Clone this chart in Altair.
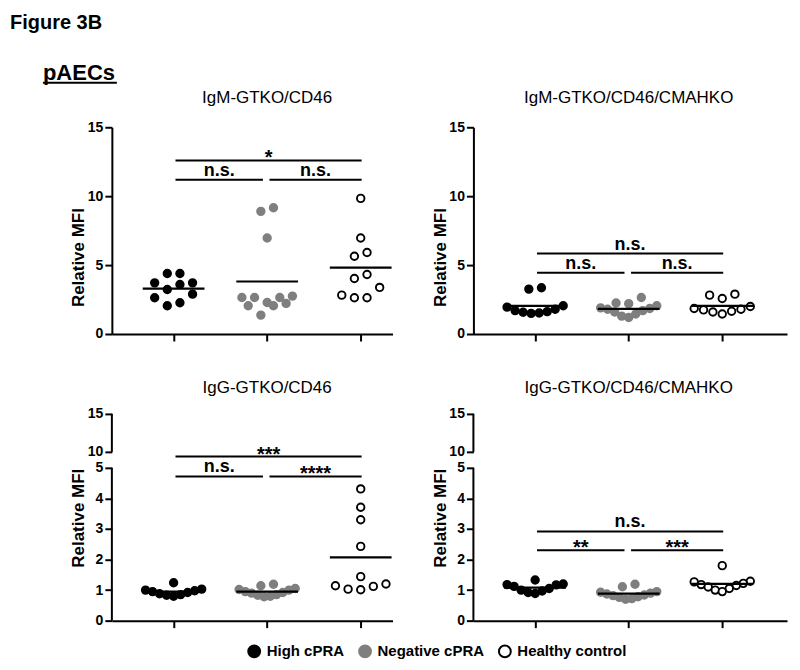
import altair as alt
import pandas as pd

# ---------------- data ----------------
groups = ["High cPRA", "Negative cPRA", "Healthy control"]
fill_colors = ["#000000", "#7f7f7f", "#ffffff"]
stroke_colors = ["#000000", "#7f7f7f", "#000000"]

panel_titles = ["IgM-GTKO/CD46", "IgM-GTKO/CD46/CMAHKO",
                "IgG-GTKO/CD46", "IgG-GTKO/CD46/CMAHKO"]
header_texts = ["Figure 3B", "pAECs"]
y_title = "Relative MFI"

igm_cd46_high = [4.39, 4.39, 3.71, 3.71, 3.59, 3.23, 2.89, 2.63, 2.27, 2.05]
igm_cd46_neg = [9.16, 8.90, 6.97, 2.75, 2.65, 2.65, 2.65, 2.29, 2.22, 2.05, 2.05, 1.37]
igm_cd46_hc = [9.84, 6.97, 5.91, 5.64, 4.32, 4.03, 3.38, 2.82, 2.63, 2.63]

igm_cmahko_high = [3.36, 3.26, 2.05, 1.95, 1.80, 1.70, 1.62, 1.58, 1.52, 1.50]
igm_cmahko_neg = [2.65, 2.25, 2.20, 2.05, 1.90, 1.85, 1.80, 1.70, 1.60, 1.45, 1.30, 1.20]
igm_cmahko_hc = [2.89, 2.82, 2.58, 2.00, 1.85, 1.80, 1.75, 1.65, 1.60, 1.45]

igg_cd46_high = [1.24, 1.03, 1.00, 0.98, 0.95, 0.92, 0.88, 0.85, 0.83, 0.80]
igg_cd46_neg = [1.19, 1.14, 1.05, 1.02, 1.00, 0.95, 0.92, 0.90, 0.85, 0.83, 0.80, 0.78]
igg_cd46_hc = [4.31, 3.71, 3.30, 2.43, 1.44, 1.20, 1.14, 1.12, 1.03, 1.01]

igg_cmahko_high = [1.33, 1.20, 1.18, 1.17, 1.12, 1.05, 1.00, 0.97, 0.92, 0.89]
igg_cmahko_neg = [1.19, 1.11, 0.95, 0.93, 0.90, 0.87, 0.84, 0.82, 0.78, 0.76, 0.72, 0.70]
igg_cmahko_hc = [1.80, 1.29, 1.27, 1.22, 1.18, 1.15, 1.10, 1.05, 1.00, 0.95]

bracket_from = [1, 1, 2]
bracket_to = [3, 2, 3]
igm_cd46_bracket_y = [12.59, 11.19, 11.19]
igm_cd46_bracket_label = ["*", "n.s.", "n.s."]
igm_cmahko_bracket_y = [5.84, 4.44, 4.44]
igm_cmahko_bracket_label = ["n.s.", "n.s.", "n.s."]
igg_cd46_bracket_y = [8.53, 4.72, 4.72]
igg_cd46_bracket_label = ["***", "n.s.", "****"]
igg_cmahko_bracket_y = [2.92, 2.30, 2.30]
igg_cmahko_bracket_label = ["n.s.", "**", "***"]

top_ticks = [0, 5, 10, 15]
broken_ticks = [0, 1, 2, 3, 4, 5, 10, 15]
broken_domain = [0, 5, 10, 15]
broken_segments_lo = [0, 10]
broken_segments_hi = [5, 15]

# ---------------- layout helpers ----------------
H = 207
STEP_PX = 93.67
XMIN = 0.34


def swarm_offsets(vals, bin_h, step=0.135, cap=0.6):
    """Prism-like scatter-dot arrangement: rows of nearby values spread out
    horizontally, lowest value in the middle."""
    order = sorted(range(len(vals)), key=lambda i: vals[i])
    offs = [0.0] * len(vals)
    i = 0
    while i < len(order):
        start = vals[order[i]]
        j = i
        while j < len(order) and vals[order[j]] <= start + bin_h + 1e-9:
            j += 1
        members = order[i:j]
        n = len(members)
        sp = step if n < 2 else min(step, cap / (n - 1))
        slots = sorted((k - (n - 1) / 2 for k in range(n)), key=lambda p: (abs(p), p))
        for idx, p in zip(members, slots):
            offs[idx] = p * sp
        i = j
    return offs


def points_frame(series, bin_h):
    rows = []
    for gi, (g, vals) in enumerate(zip(groups, series), start=1):
        for v, o in zip(vals, swarm_offsets(vals, bin_h)):
            rows.append({"group": g, "gidx": gi, "value": v, "xpos": gi + o})
    return pd.DataFrame(rows)


def bracket_frames(ys, labels):
    lines, ns, stars = [], [], []
    for a, b, y, lab in zip(bracket_from, bracket_to, ys, labels):
        x1 = a + (0.025 if a == 2 else 0.02)
        x2 = b - 0.045 if b == 2 else b + 0.01
        lines.append({"x1": x1, "x2": x2, "y": y})
        rec = {"xm": (x1 + x2) / 2, "y": y, "label": lab}
        (stars if lab.startswith("*") else ns).append(rec)
    return pd.DataFrame(lines), pd.DataFrame(ns), pd.DataFrame(stars)


fill_scale = alt.Scale(domain=groups, range=fill_colors)
stroke_scale = alt.Scale(domain=groups, range=stroke_colors)

AXIS_STYLE = dict(
    grid=False, domainColor="black", domainWidth=2, tickColor="black", tickWidth=2,
    tickSize=7, labelFontSize=14, labelFontWeight="bold", labelColor="black",
    labelPadding=2, labelOverlap=False,
)


def make_panel(title, series, ys, labels, broken, width, title_y, ytitle_y, header=False):
    df = points_frame(series, 0.35 if broken else 0.9)
    xscale = alt.Scale(domain=[XMIN, XMIN + width / STEP_PX], nice=False, zero=False)
    xaxis = alt.Axis(values=[1, 2, 3], labels=False, **AXIS_STYLE)
    if broken:
        yscale = alt.Scale(domain=broken_domain, range=[H, 54, 38, 0], nice=False, zero=False)
        yvals = broken_ticks
    else:
        yscale = alt.Scale(domain=[0, 15], nice=False, zero=False)
        yvals = top_ticks
    yaxis = alt.Axis(values=yvals, domain=not broken, titleAngle=270,
                     titleBaseline="alphabetic", titleX=-28, titleY=ytitle_y,
                     titleFontSize=17, titleFontWeight="bold", titleColor="black",
                     **AXIS_STYLE)

    def X(field):
        return alt.X(field, scale=xscale, axis=xaxis, title=None)

    def Y(field):
        return alt.Y(field, scale=yscale, axis=yaxis, title=y_title)

    pts = alt.Chart(df).mark_circle(size=56, opacity=1, strokeWidth=1.9).encode(
        x=X("xpos:Q"),
        y=Y("value:Q"),
        fill=alt.Fill("group:N", scale=fill_scale, title=None),
        stroke=alt.Stroke("group:N", scale=stroke_scale, title=None),
    )
    means = alt.Chart(df).transform_aggregate(
        m="mean(value)", groupby=["gidx"]
    ).transform_calculate(
        x1="datum.gidx - 0.33", x2="datum.gidx + 0.33"
    ).mark_rule(color="black", strokeWidth=2.2).encode(
        x=X("x1:Q"), x2="x2:Q", y=Y("m:Q"),
    )
    ldf, nsdf, stdf = bracket_frames(ys, labels)
    layers = [pts, means]
    layers.append(alt.Chart(ldf).mark_rule(color="black", strokeWidth=2).encode(
        x=X("x1:Q"), x2="x2:Q", y=Y("y:Q")))
    if len(nsdf):
        layers.append(alt.Chart(nsdf).mark_text(
            fontSize=18, fontWeight="bold", baseline="alphabetic", dy=-4, color="black"
        ).encode(x=X("xm:Q"), y=Y("y:Q"), text="label:N"))
    if len(stdf):
        layers.append(alt.Chart(stdf).mark_text(
            fontSize=20, fontWeight="bold", baseline="alphabetic", dy=4, color="black"
        ).encode(x=X("xm:Q"), y=Y("y:Q"), text="label:N"))
    if broken:
        seg = pd.DataFrame({"lo": broken_segments_lo, "hi": broken_segments_hi})
        layers.append(alt.Chart(seg).mark_rule(color="black", strokeWidth=2).encode(
            x=alt.value(0), y=Y("lo:Q"), y2="hi:Q"))
    # panel title, centred over the middle group
    layers.append(alt.Chart(pd.DataFrame({"t": [title], "gidx": [2]})).mark_text(
        baseline="alphabetic", fontSize=17, color="black"
    ).encode(x=X("gidx:Q"), y=alt.value(title_y), text="t:N"))
    if header:
        layers.append(alt.Chart(pd.DataFrame({"t": [header_texts[0]]})).mark_text(
            align="left", baseline="top", fontSize=20, fontWeight="bold", color="black"
        ).encode(x=alt.value(-102), y=alt.value(-114), text="t:N"))
        layers.append(alt.Chart(pd.DataFrame({"t": [header_texts[1]]})).mark_text(
            align="left", baseline="alphabetic", fontSize=22, fontWeight="bold", color="black"
        ).encode(x=alt.value(-69), y=alt.value(-47), text="t:N"))
        layers.append(alt.Chart(pd.DataFrame({"t": [header_texts[1]]})).mark_rule(
            color="black", strokeWidth=2
        ).encode(x=alt.value(-69), x2=alt.value(5), y=alt.value(-44.5)))

    return alt.layer(*layers).properties(width=width, height=H)


tl = make_panel(panel_titles[0], [igm_cd46_high, igm_cd46_neg, igm_cd46_hc],
                igm_cd46_bracket_y, igm_cd46_bracket_label, False, 281, -24, 130,
                header=True)
tr = make_panel(panel_titles[1], [igm_cmahko_high, igm_cmahko_neg, igm_cmahko_hc],
                igm_cmahko_bracket_y, igm_cmahko_bracket_label, False, 314, -24, 130)
bl = make_panel(panel_titles[2], [igg_cd46_high, igg_cd46_neg, igg_cd46_hc],
                igg_cd46_bracket_y, igg_cd46_bracket_label, True, 281, -21, 104)
br = make_panel(panel_titles[3], [igg_cmahko_high, igg_cmahko_neg, igg_cmahko_hc],
                igg_cmahko_bracket_y, igg_cmahko_bracket_label, True, 314, -21, 104)

chart = alt.concat(
    tl, tr, bl, br, columns=2, spacing={"row": 80, "column": 81}, bounds="flush"
).properties(
    padding={"left": 2, "top": 5, "right": 5, "bottom": 5}
).configure(
    font="Liberation Sans"
).configure_view(
    stroke=None
).configure_legend(
    orient="none", legendX=135, legendY=517, direction="horizontal", columns=3,
    labelFontSize=15, labelFontWeight="bold", labelColor="black",
    symbolSize=140, symbolStrokeWidth=2, symbolOpacity=1, labelOffset=5,
    columnPadding=10, padding=0, symbolType="circle",
)

chart.save("out.html", embed_options={"renderer": "svg", "actions": False})
